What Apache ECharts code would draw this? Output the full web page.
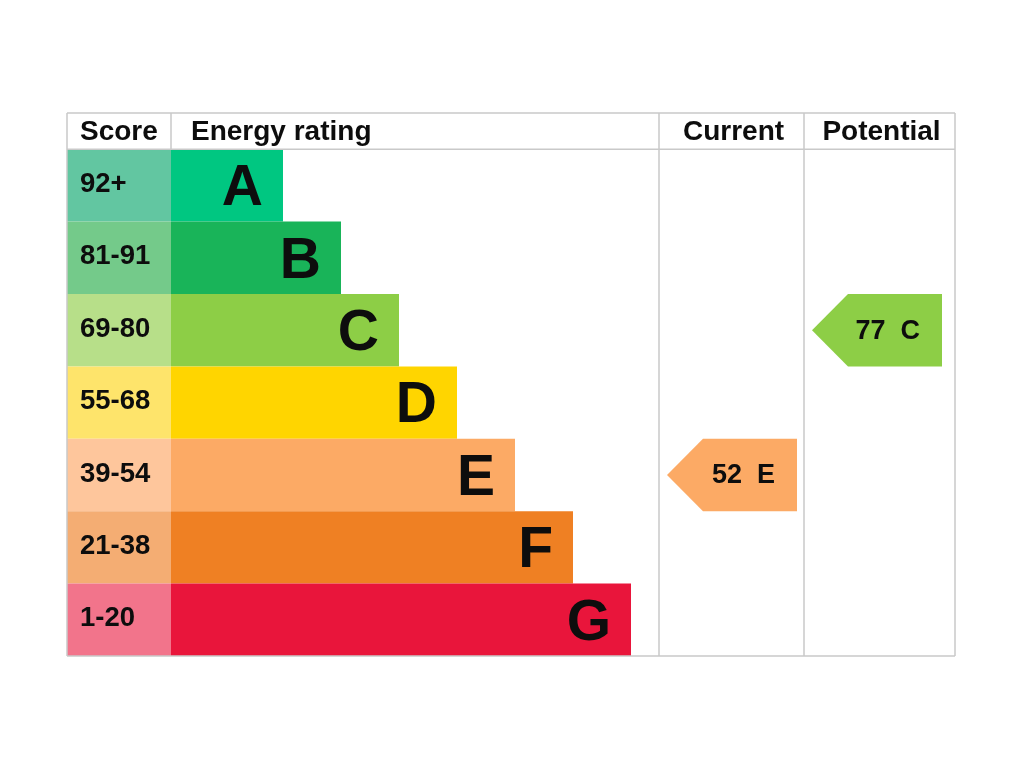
<!DOCTYPE html>
<html>
<head>
<meta charset="utf-8">
<script src="https://cdn.jsdelivr.net/npm/echarts@6/dist/echarts.min.js"></script>
<style>
html,body{margin:0;padding:0;background:#fff;}
#chart{width:1024px;height:768px;}
</style>
</head>
<body>
<div id="chart"></div>
<script>
// ---- data ----
const ratings = ['A', 'B', 'C', 'D', 'E', 'F', 'G'];
const scoreBands = ['92+', '81-91', '69-80', '55-68', '39-54', '21-38', '1-20'];
const barEnds = [216, 274, 332, 390, 448, 506, 564];   // bar right end, x-axis units
const barColors = ['#00c781', '#19b459', '#8dce46', '#ffd500', '#fcaa65', '#ef8023', '#e9153b'];
const scoreColors = ['#62c6a1', '#74ca8a', '#b7df89', '#fee46b', '#fec69c', '#f4ad73', '#f2748b'];
const headers = ['Score', 'Energy rating', 'Current', 'Potential'];
const columnStarts = [0, 104, 592, 737];   // x-axis units
const axisEnd = 888;
const currentRating = { score: 52, rating: 'E' };
const potentialRating = { score: 77, rating: 'C' };

const FAMILY = 'Liberation Sans, Arial, Helvetica, sans-serif';
const HEADER_H = 0.5;
const LINE = '#c9c9c9';

const chart = echarts.init(document.getElementById('chart'));

function rowTop(i) { return HEADER_H + i; }
function txt(x, y, text, size, align) {
  return { type: 'text', x: x, y: y,
    style: { text: text, fill: '#0d0d0d', fontFamily: FAMILY, fontWeight: 'bold', fontSize: size,
             textAlign: align, textVerticalAlign: 'middle' } };
}

const bandData = ratings.map((r, i) => [i]);

const arrowData = [
  { col: 2, row: ratings.indexOf(currentRating.rating), score: currentRating.score, rating: currentRating.rating },
  { col: 3, row: ratings.indexOf(potentialRating.rating), score: potentialRating.score, rating: potentialRating.rating }
];

const option = {
  animation: false,
  backgroundColor: '#ffffff',
  grid: { left: 67, right: 69, top: 113, bottom: 112, containLabel: false },
  xAxis: { type: 'value', min: 0, max: axisEnd, show: false },
  yAxis: { type: 'value', min: 0, max: HEADER_H + ratings.length, inverse: true, show: false },
  series: [
    {
      type: 'custom',
      name: 'bands',
      data: bandData,
      renderItem: function (params, api) {
        const i = api.value(0);
        const tl = api.coord([columnStarts[0], rowTop(i)]);
        const mid = api.coord([columnStarts[1], rowTop(i) + 1]);
        const end = api.coord([barEnds[i], rowTop(i) + 1]);
        const h = mid[1] - tl[1];
        return {
          type: 'group',
          children: [
            { type: 'rect', shape: { x: tl[0], y: tl[1], width: mid[0] - tl[0], height: h },
              style: { fill: scoreColors[i] } },
            { type: 'rect', shape: { x: mid[0], y: tl[1], width: end[0] - mid[0], height: h },
              style: { fill: barColors[i] } },
            txt(tl[0] + 13, tl[1] + h / 2 - 1, scoreBands[i], 27.5, 'left'),
            txt(end[0] - 20, tl[1] + h / 2 + 4, ratings[i], 57, 'right')
          ]
        };
      }
    },
    {
      type: 'custom',
      name: 'arrows',
      data: arrowData.map(d => [d.col, d.row, d.score]),
      renderItem: function (params, api) {
        const d = arrowData[params.dataIndex];
        const colL = columnStarts[d.col];
        const tl = api.coord([colL, rowTop(d.row)]);
        const br = api.coord([colL, rowTop(d.row) + 1]);
        const x0 = tl[0] + 8, x2 = x0 + 130, x1 = x0 + 36;
        const y0 = tl[1], y1 = br[1], ym = (y0 + y1) / 2;
        return {
          type: 'group',
          children: [
            { type: 'polygon', shape: { points: [[x0, ym], [x1, y0], [x2, y0], [x2, y1], [x1, y1]] },
              style: { fill: barColors[d.row] } },
            txt(x2 - 22, ym + 1, d.score + '  ' + d.rating, 27, 'right')
          ]
        };
      }
    },
    {
      type: 'custom',
      name: 'frame',
      data: [[0]],
      z: 5,
      renderItem: function (params, api) {
        const yTop = 0, yHead = HEADER_H, yBot = HEADER_H + ratings.length;
        const children = [];
        const line = (a, b) => {
          const p1 = api.coord(a), p2 = api.coord(b);
          children.push({ type: 'line', shape: { x1: p1[0], y1: p1[1], x2: p2[0], y2: p2[1] },
                          style: { stroke: LINE, lineWidth: 1.5 } });
        };
        line([0, yTop], [axisEnd, yTop]);
        line([0, yBot], [axisEnd, yBot]);
        line([0, yTop], [0, yBot]);
        line([axisEnd, yTop], [axisEnd, yBot]);
        line([0, yHead], [axisEnd, yHead]);
        line([columnStarts[1], yTop], [columnStarts[1], yHead]);
        line([columnStarts[2], yTop], [columnStarts[2], yBot]);
        line([columnStarts[3], yTop], [columnStarts[3], yBot]);
        headers.forEach((t, k) => {
          const l = columnStarts[k];
          const r = k + 1 < columnStarts.length ? columnStarts[k + 1] : axisEnd;
          const pl = api.coord([l, yTop]);
          const pr = api.coord([r, yHead]);
          const cy = (pl[1] + pr[1]) / 2 + 1;
          let x, align;
          if (k === 0) { x = pl[0] + 13; align = 'left'; }
          else if (k === 1) { x = pl[0] + 20; align = 'left'; }
          else { x = (pl[0] + pr[0]) / 2 + 2; align = 'center'; }
          children.push(txt(x, cy, t, 28, align));
        });
        return { type: 'group', children: children };
      }
    }
  ]
};

chart.setOption(option);
</script>
</body>
</html>
